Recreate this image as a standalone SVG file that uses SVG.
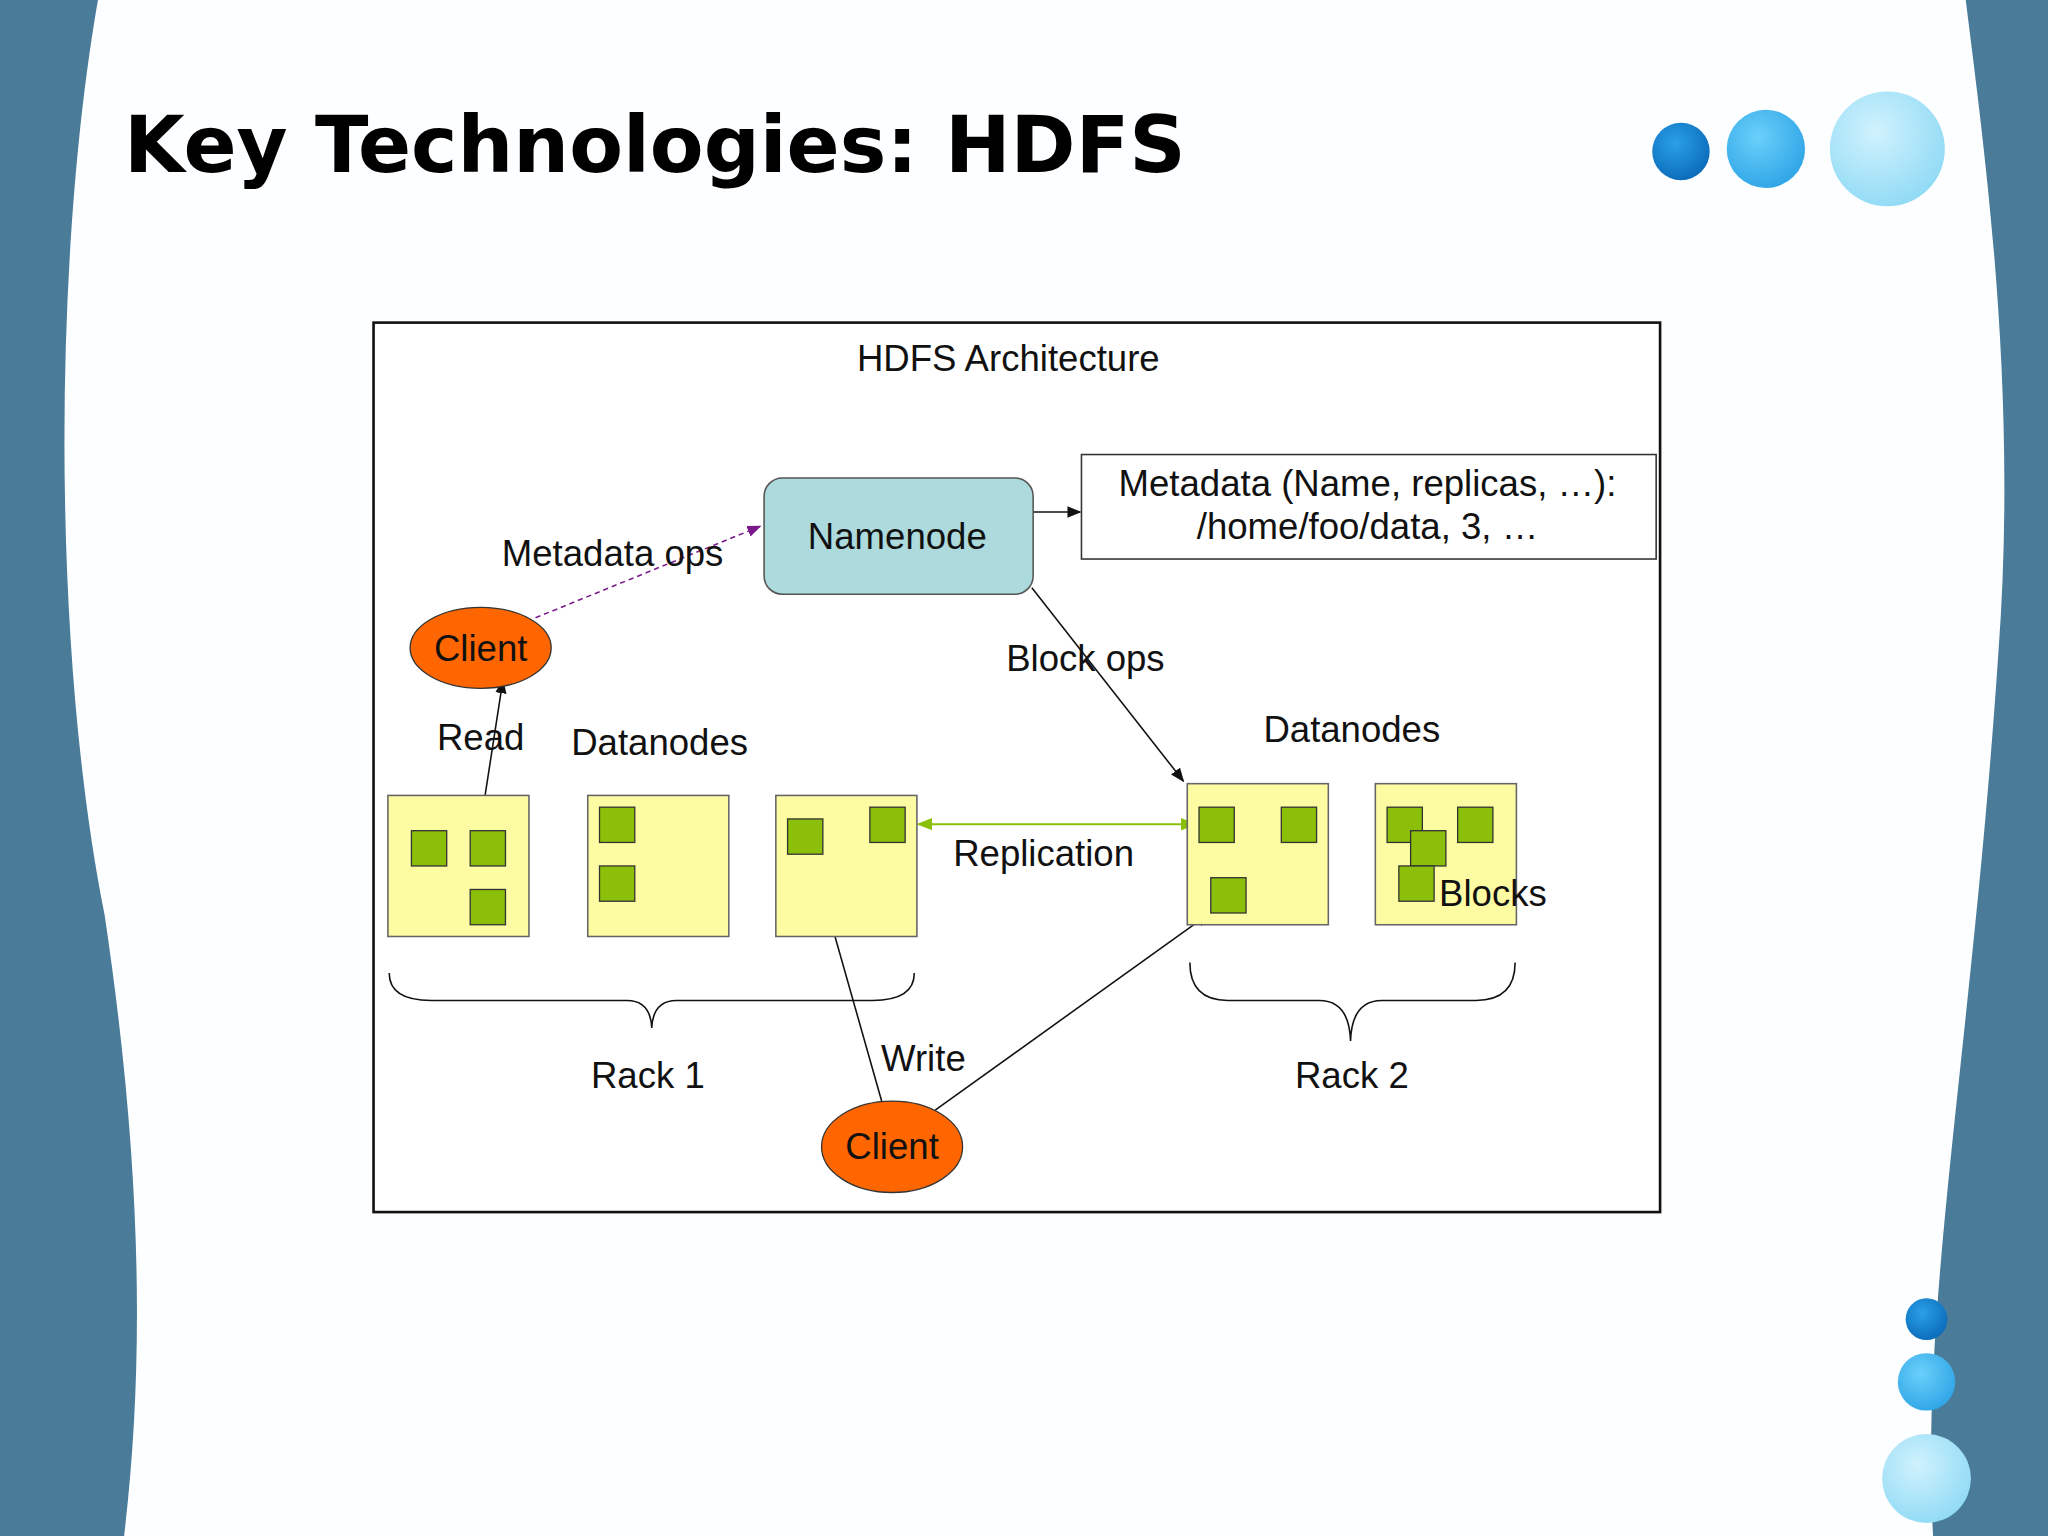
<svg xmlns="http://www.w3.org/2000/svg" width="2048" height="1536" viewBox="0 0 2048 1536">
<defs>
<style>
.t{font-family:"Liberation Sans",Arial,sans-serif;font-size:28px;fill:#111;text-anchor:middle}
.dn{fill:#fdfca3;stroke:#666;stroke-width:1.2}
.bk{fill:#8cbf0a;stroke:#333;stroke-width:1}
.ln{stroke:#111;stroke-width:1.2;fill:none}
</style>
<marker id="ah" viewBox="0 0 10 10" refX="9" refY="5" markerWidth="9" markerHeight="9" orient="auto-start-reverse"><path d="M0,1 L10,5 L0,9 z" fill="#111"/></marker>
<marker id="ap" viewBox="0 0 10 10" refX="9" refY="5" markerWidth="9" markerHeight="9" orient="auto"><path d="M0,1 L10,5 L0,9 z" fill="#7a1a8a"/></marker>
<marker id="ag" viewBox="0 0 10 10" refX="9" refY="5" markerWidth="8" markerHeight="8" orient="auto-start-reverse"><path d="M0,1 L10,5 L0,9 z" fill="#8cbf0a"/></marker>
<radialGradient id="c1" cx="0.4" cy="0.35" r="0.7"><stop offset="0" stop-color="#2aa0e8"/><stop offset="1" stop-color="#0a6ab8"/></radialGradient>
<radialGradient id="c2" cx="0.4" cy="0.35" r="0.7"><stop offset="0" stop-color="#6ad0fa"/><stop offset="1" stop-color="#2ea4e6"/></radialGradient>
<radialGradient id="c3" cx="0.4" cy="0.35" r="0.7"><stop offset="0" stop-color="#d0f2fd"/><stop offset="1" stop-color="#8fdaf5"/></radialGradient>
</defs>
<g transform="scale(1.30612)">
<rect width="1568" height="1176" fill="#4a7b99"/>
<path d="M75,0 C40,200 40,500 80,700 C110,900 110,1050 95,1176 L1480,1176 C1470,1000 1510,800 1530,500 C1545,300 1520,120 1505,0 Z" fill="#fdfeff"/>
<text x="95" y="132" style="font-family:'DejaVu Sans','Liberation Sans',sans-serif;font-weight:bold;font-size:60px;fill:#000">Key Technologies: HDFS</text>
<circle cx="1287" cy="116" r="22" fill="url(#c1)"/>
<circle cx="1352" cy="114" r="30" fill="url(#c2)"/>
<circle cx="1445" cy="114" r="44" fill="url(#c3)"/>
<circle cx="1475" cy="1010" r="16" fill="url(#c1)"/>
<circle cx="1475" cy="1058" r="22" fill="url(#c2)"/>
<circle cx="1475" cy="1132" r="34" fill="url(#c3)"/>
<rect x="286" y="247" width="985" height="681" fill="#fff" stroke="#111" stroke-width="2"/>
<text class="t" x="772" y="284">HDFS Architecture</text>
<g id="connectors">
<line class="ln" x1="791" y1="392" x2="827" y2="392" marker-end="url(#ah)"/>
<line x1="410" y1="473" x2="582" y2="403" stroke="#7a1a8a" stroke-width="1.2" stroke-dasharray="4,3" marker-end="url(#ap)"/>
<line class="ln" x1="790" y1="450" x2="906" y2="598" marker-end="url(#ah)"/>
<line class="ln" x1="370" y1="618" x2="385" y2="521" marker-end="url(#ah)"/>
<line x1="703" y1="631" x2="915" y2="631" stroke="#8cbf0a" stroke-width="1.5" marker-start="url(#ag)" marker-end="url(#ag)"/>
<line class="ln" x1="675" y1="843" x2="622" y2="656" marker-end="url(#ah)"/>
<line class="ln" x1="716" y1="850" x2="925" y2="700" marker-end="url(#ah)"/>
<path class="ln" d="M298,745 Q298,766 330,766 L480,766 Q498,766 499,787 Q500,766 518,766 L668,766 Q700,766 700,745"/>
<path class="ln" d="M911,737 Q911,766 940,766 L1010,766 Q1033,766 1034,797 Q1035,766 1058,766 L1130,766 Q1160,766 1160,737"/>
</g>
<g id="namenode"><rect x="585" y="366" width="206" height="89" rx="14" fill="#acdadd" stroke="#555" stroke-width="1.2"/><text class="t" x="687" y="420">Namenode</text></g>
<g id="metadata"><rect x="828" y="348" width="440" height="80" fill="#fff" stroke="#333" stroke-width="1.2"/><text class="t" x="1047" y="380">Metadata (Name, replicas, …):</text><text class="t" x="1047" y="413">/home/foo/data, 3, …</text></g>
<g id="client1"><ellipse cx="368" cy="496" rx="54" ry="31" fill="#ff6600" stroke="#333"/><text class="t" x="368" y="506">Client</text></g>
<g id="client2"><ellipse cx="683" cy="878" rx="54" ry="35" fill="#ff6600" stroke="#333"/><text class="t" x="683" y="887">Client</text></g>
<g id="dn1"><rect class="dn" x="297" y="609" width="108" height="108"/><rect class="bk" x="315" y="636" width="27" height="27"/><rect class="bk" x="360" y="636" width="27" height="27"/><rect class="bk" x="360" y="681" width="27" height="27"/></g>
<g id="dn2"><rect class="dn" x="450" y="609" width="108" height="108"/><rect class="bk" x="459" y="618" width="27" height="27"/><rect class="bk" x="459" y="663" width="27" height="27"/></g>
<g id="dn3"><rect class="dn" x="594" y="609" width="108" height="108"/><rect class="bk" x="603" y="627" width="27" height="27"/><rect class="bk" x="666" y="618" width="27" height="27"/></g>
<g id="dn4"><rect class="dn" x="909" y="600" width="108" height="108"/><rect class="bk" x="918" y="618" width="27" height="27"/><rect class="bk" x="981" y="618" width="27" height="27"/><rect class="bk" x="927" y="672" width="27" height="27"/></g>
<g id="dn5"><rect class="dn" x="1053" y="600" width="108" height="108"/><rect class="bk" x="1062" y="618" width="27" height="27"/><rect class="bk" x="1116" y="618" width="27" height="27"/><rect class="bk" x="1080" y="636" width="27" height="27"/><rect class="bk" x="1071" y="663" width="27" height="27"/></g>
<g id="labels">
<text class="t" x="469" y="433">Metadata ops</text>
<text class="t" x="831" y="514">Block ops</text>
<text class="t" x="368" y="574">Read</text>
<text class="t" x="505" y="578">Datanodes</text>
<text class="t" x="1035" y="568">Datanodes</text>
<text class="t" x="799" y="663">Replication</text>
<text class="t" x="1143" y="694">Blocks</text>
<text class="t" x="707" y="820">Write</text>
<text class="t" x="496" y="833">Rack 1</text>
<text class="t" x="1035" y="833">Rack 2</text>
</g>
</g>
</svg>
